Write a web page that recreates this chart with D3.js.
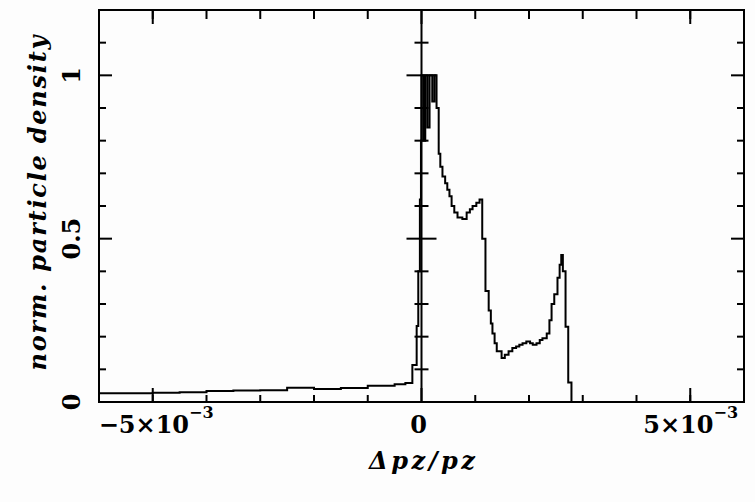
<!DOCTYPE html>
<html lang="en">
<head>
<meta charset="UTF-8">
<title>norm. particle density</title>
<script src="https://d3js.org/d3.v7.min.js"></script>
<style>
    body { margin: 0; background: #fff; }
    svg { display: block; background: #fdfdfd; }
    .frame { fill: none; stroke: #000; stroke-width: 2px; }
    .curve { fill: none; stroke: #000; stroke-width: 2px; }
    .tick-label { font-family: "DejaVu Serif", serif; font-weight: bold; font-size: 24px; fill: #000; }
    .axis-title { font-family: "DejaVu Serif", serif; font-style: italic; font-weight: bold; font-size: 24px; fill: #000; }
</style>
</head>
<body>
<div id="chart"></div>
<script>
    // x values in units of 1e-3 (left edge of each bin), y = normalised density
    const binStart = [-6.0, -5.5, -5.0, -4.5, -4.0, -3.5, -3.0, -2.5, -2.0, -1.5, -1.0, -0.5, -0.3,
        -0.17, -0.09, -0.06, -0.03, -0.01, 0.00, 0.04, 0.07, 0.11, 0.15, 0.20, 0.24, 0.28, 0.32,
        0.35, 0.39, 0.44, 0.48, 0.52, 0.56, 0.61, 0.67, 0.76, 0.84, 0.90, 0.95, 1.02, 1.08, 1.13,
        1.19, 1.25, 1.29, 1.32, 1.36, 1.40, 1.49, 1.55, 1.62, 1.69, 1.76, 1.82, 1.88, 1.95, 2.02,
        2.07, 2.14, 2.20, 2.25, 2.33, 2.38, 2.42, 2.47, 2.53, 2.57, 2.60, 2.63, 2.68, 2.73, 2.79, 6.0];
    const density = [0.027, 0.027, 0.028, 0.030, 0.034, 0.035, 0.036, 0.044, 0.040, 0.043, 0.050, 0.054, 0.058,
        0.113, 0.233, 0.40, 0.62, 0.80, 1.00, 0.80, 1.00, 0.84, 1.00, 0.92, 1.00, 0.90, 0.76,
        0.72, 0.69, 0.67, 0.65, 0.63, 0.60, 0.58, 0.565, 0.56, 0.58, 0.59, 0.60, 0.61, 0.62, 0.50,
        0.34, 0.28, 0.24, 0.21, 0.18, 0.155, 0.135, 0.145, 0.155, 0.165, 0.17, 0.175, 0.18, 0.185, 0.18,
        0.175, 0.18, 0.19, 0.195, 0.21, 0.25, 0.30, 0.33, 0.38, 0.42, 0.45, 0.40, 0.23, 0.06, 0.0, 0.0];

    const xMinorTicks = [-5, -4, -3, -2, -1, 1, 2, 3, 4, 5];
    const xMajorTicks = [-5, 0, 5];
    const xTickLabels = [["\u22125\u00d710", "\u22123"], ["0", ""], ["5\u00d710", "\u22123"]];
    const yMinorTicks = [0.1, 0.2, 0.3, 0.4, 0.6, 0.7, 0.8, 0.9, 1.1];
    const yMajorTicks = [0, 0.5, 1];
    const yTickLabels = ["0", "0.5", "1"];

    const W = 755, H = 502;
    const mLeft = 99, mRight = 744, mTop = 10, mBottom = 402;

    const svg = d3.select("#chart").append("svg")
        .attr("width", W)
        .attr("height", H);

    const x = d3.scaleLinear().domain([-6, 6]).range([mLeft, mRight]);
    const y = d3.scaleLinear().domain([0, 1.2]).range([mBottom, mTop]);

    // tick marks: vertical ones on top/bottom, horizontal ones on the sides
    function vTicks(vals, y0, len) {
        svg.append("g").selectAll("line").data(vals).join("line")
            .attr("x1", d => x(d)).attr("x2", d => x(d))
            .attr("y1", y0).attr("y2", y0 + len)
            .attr("stroke", "#000").attr("stroke-width", 2);
    }
    function hTicks(vals, x0, x1) {
        svg.append("g").selectAll("line").data(vals).join("line")
            .attr("x1", x0).attr("x2", x1)
            .attr("y1", d => y(d)).attr("y2", d => y(d))
            .attr("stroke", "#000").attr("stroke-width", 2);
    }
    vTicks(xMinorTicks, mBottom, -7);
    vTicks(xMajorTicks, mBottom, -14);
    vTicks(xMinorTicks, mTop, 9);
    vTicks(xMajorTicks, mTop, 14);
    hTicks(yMinorTicks, mLeft, mLeft + 7);
    hTicks(yMajorTicks, mLeft, mLeft + 13);
    hTicks(yMinorTicks, mRight, mRight - 7);
    hTicks(yMajorTicks, mRight, mRight - 13);

    // vertical line at zero with crossing ticks
    svg.append("line")
        .attr("x1", x(0)).attr("x2", x(0))
        .attr("y1", y(1.2)).attr("y2", y(0))
        .attr("stroke", "#000").attr("stroke-width", 2);
    hTicks(yMinorTicks, x(0) - 7, x(0) + 7);
    hTicks([0.5, 1], x(0) - 15, x(0) + 15);

    // histogram curve
    const pts = binStart.map((v, i) => [v, density[i]]);
    const line = d3.line()
        .x(d => x(d[0]))
        .y(d => y(d[1]))
        .curve(d3.curveStepAfter);
    svg.append("path")
        .datum(pts)
        .attr("class", "curve")
        .attr("d", line);

    svg.append("rect")
        .attr("class", "frame")
        .attr("x", mLeft).attr("y", mTop)
        .attr("width", mRight - mLeft).attr("height", mBottom - mTop);

    // x tick labels with superscript exponent
    const labelShift = [-54, -3, -47];
    xMajorTicks.forEach((v, i) => {
        const t = svg.append("text")
            .attr("class", "tick-label")
            .attr("x", x(v) + labelShift[i])
            .attr("y", 433)
            .attr("text-anchor", i === 1 ? "middle" : "start");
        t.append("tspan").text(xTickLabels[i][0]);
        if (xTickLabels[i][1]) {
            t.append("tspan")
                .attr("dy", -15)
                .attr("font-size", "16px")
                .text(xTickLabels[i][1]);
        }
    });

    // y tick labels, rotated
    yMajorTicks.forEach((v, i) => {
        svg.append("text")
            .attr("class", "tick-label")
            .attr("transform", `translate(80,${y(v)}) rotate(-90)`)
            .attr("text-anchor", "middle")
            .text(yTickLabels[i]);
    });

    svg.append("text")
        .attr("class", "axis-title")
        .attr("transform", `translate(46,203) rotate(-90)`)
        .attr("text-anchor", "middle")
        .attr("textLength", 335)
        .attr("lengthAdjust", "spacing")
        .text("norm.  particle  density");

    svg.append("text")
        .attr("class", "axis-title")
        .attr("x", 422)
        .attr("y", 469)
        .attr("text-anchor", "middle")
        .attr("textLength", 106)
        .attr("lengthAdjust", "spacing")
        .text("\u0394pz/pz");
</script>
</body>
</html>
